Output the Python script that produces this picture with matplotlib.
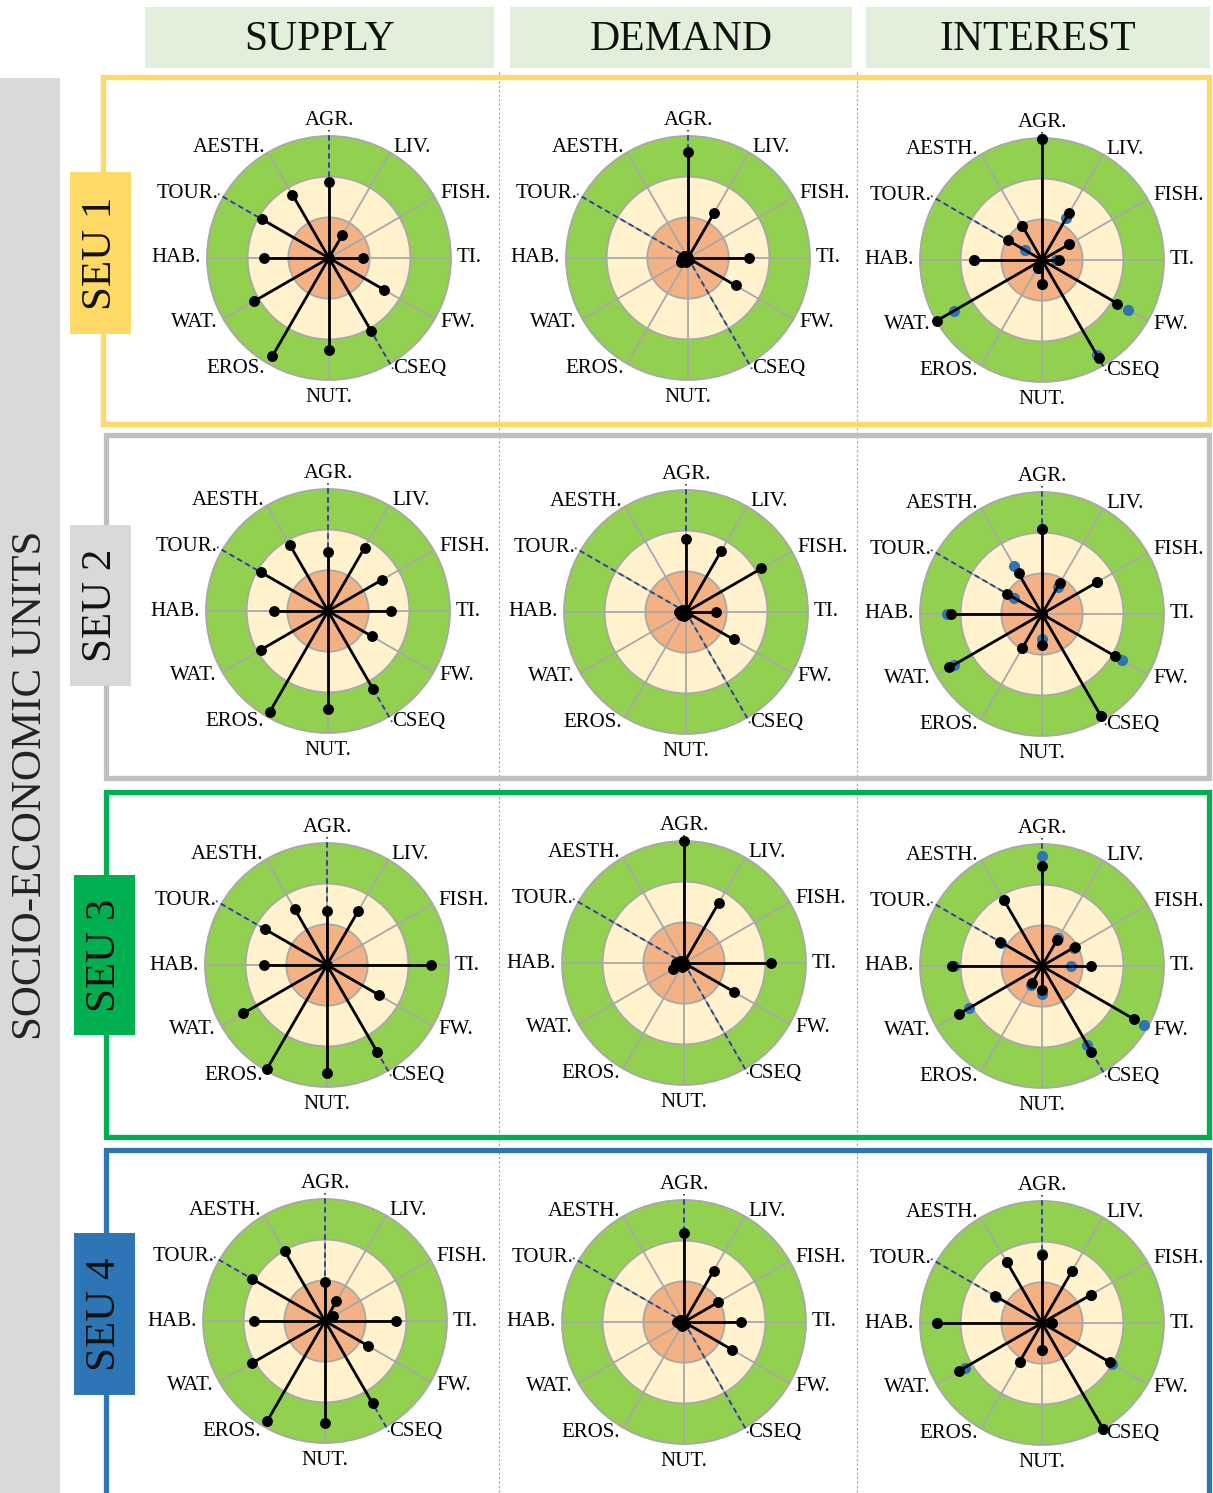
import matplotlib
matplotlib.use('Agg')
import matplotlib.pyplot as plt
import numpy as np
from matplotlib.patches import Rectangle
from matplotlib.lines import Line2D

plt.rcParams['font.family'] = ['Liberation Serif', 'DejaVu Serif']

# ecosystem services, clockwise from the top
services = ['AGR.', 'LIV.', 'FISH.', 'TI.', 'FW.', 'CSEQ', 'NUT.', 'EROS.', 'WAT.', 'HAB.', 'TOUR.', 'AESTH.']
columns = ['SUPPLY', 'DEMAND', 'INTEREST']
units = ['SEU 1', 'SEU 2', 'SEU 3', 'SEU 4']

# scores on a 0-3 scale
seu1_supply = [1.86, 0.64, 0.0, 0.83, 1.55, 2.07, 2.27, 2.78, 2.13, 1.59, 1.91, 1.80]
seu1_demand = [2.61, 1.29, 0.0, 1.51, 1.35, 0.05, 0.05, 0.10, 0.20, 0.15, 0.10, 0.05]
seu1_interest = [2.97, 1.34, 0.78, 0.41, 2.14, 2.79, 0.59, 0.22, 2.98, 1.68, 0.96, 0.97]
seu1_interest2 = [2.97, 1.20, 0.78, 0.35, 2.44, 2.71, 0.59, 0.22, 2.49, 1.68, 0.49, 0.97]

seu2_supply = [1.45, 1.80, 1.53, 1.56, 1.25, 2.21, 2.40, 2.87, 1.90, 1.33, 1.90, 1.88]
seu2_demand = [1.79, 1.72, 2.14, 0.73, 1.35, 0.05, 0.05, 0.10, 0.15, 0.17, 0.10, 0.05]
seu2_interest = [2.08, 0.89, 1.57, 0.0, 2.06, 2.90, 0.76, 0.96, 2.63, 2.24, 0.99, 1.15]
seu2_interest2 = [2.08, 0.77, 1.57, 0.0, 2.28, 2.90, 0.62, 0.96, 2.50, 2.34, 0.79, 1.36]

seu3_supply = [1.32, 1.54, 0.0, 2.55, 1.49, 2.47, 2.65, 2.96, 2.38, 1.55, 1.76, 1.59]
seu3_demand = [3.00, 1.71, 0.0, 2.15, 1.41, 0.05, 0.05, 0.10, 0.30, 0.20, 0.10, 0.05]
seu3_interest = [2.47, 0.74, 0.94, 1.20, 2.62, 2.43, 0.59, 0.49, 2.35, 2.21, 1.19, 1.88]
seu3_interest2 = [2.70, 0.80, 0.90, 0.72, 2.90, 2.23, 0.70, 0.53, 2.08, 2.17, 1.15, 1.88]

seu4_supply = [0.95, 0.56, 0.23, 1.74, 1.23, 2.34, 2.50, 2.84, 2.07, 1.75, 2.06, 1.98]
seu4_demand = [2.20, 1.46, 0.96, 1.40, 1.36, 0.05, 0.05, 0.10, 0.12, 0.18, 0.10, 0.05]
seu4_interest = [1.67, 1.47, 1.40, 0.25, 1.93, 3.00, 0.66, 1.10, 2.36, 2.58, 1.33, 1.73]
seu4_interest2 = [1.70, 1.47, 1.40, 0.25, 2.00, 3.00, 0.66, 1.10, 2.20, 2.58, 1.30, 1.73]

rows = [
    (seu1_supply, seu1_demand, seu1_interest, seu1_interest2),
    (seu2_supply, seu2_demand, seu2_interest, seu2_interest2),
    (seu3_supply, seu3_demand, seu3_interest, seu3_interest2),
    (seu4_supply, seu4_demand, seu4_interest, seu4_interest2),
]

W, H = 1213, 1493
fig = plt.figure(figsize=(W / 100, H / 100), dpi=100)


def box(x0, y0, x1, y1, **kw):
    r = Rectangle((x0 / W, 1 - y1 / H), (x1 - x0) / W, (y1 - y0) / H,
                  transform=fig.transFigure, **kw)
    fig.add_artist(r)


# column headers
header_x = [(145, 494), (510, 852), (866, 1210)]
for (x0, x1), name in zip(header_x, columns):
    box(x0, 7, x1, 68, facecolor='#e2efda', edgecolor='none')
    fig.text((x0 + x1) / 2 / W, 1 - 40 / H, name, ha='center', va='center',
             fontsize=30, color='#111111')

# side bar
box(0, 78, 60, 1500, facecolor='#d9d9d9', edgecolor='none')
fig.text(31 / W, 1 - 785 / H, 'SOCIO-ECONOMIC UNITS', rotation=90, ha='center',
         va='center', fontsize=31, color='#222222')

# dotted column separators
for x in [499, 857]:
    fig.add_artist(Line2D([x / W, x / W], [1 - 72 / H, 0], transform=fig.transFigure,
                          color='#a0a0a0', lw=0.8, ls=(0, (2, 2))))

frame_colors = ['#ffd966', '#bfbfbf', '#00b050', '#2e75b6']
frame_y = [(77, 424), (435, 778), (792, 1137), (1150, 1510)]
frame_x = [(103, 1209), (106, 1209), (106, 1209), (106, 1209)]
tag_pos = [(70, 172, 131, 334), (70, 525, 131, 686), (74, 875, 135, 1035), (74, 1233, 135, 1395)]
tag_colors = ['#ffd966', '#d9d9d9', '#00b050', '#2e75b6']

col_cx = [[329, 688, 1042], [328, 686, 1042], [327, 684, 1042], [325, 684, 1042]]
row_cy = [[258, 258, 260], [611, 612, 614], [965, 963, 966], [1321, 1322, 1323]]
R = 122

theta = np.linspace(0, 2 * np.pi, len(services), endpoint=False)

for i, (sup, dem, intr, intr2) in enumerate(rows):
    panels = [sup, dem, intr]
    for j in range(3):
        cx, cy = col_cx[i][j], row_cy[i][j]
        ax = fig.add_axes([(cx - R) / W, 1 - (cy + R) / H, 2 * R / W, 2 * R / H],
                          projection='polar')
        ax.set_theta_offset(np.pi / 2)
        ax.set_theta_direction(-1)
        # three bands
        ax.bar(0, 1, width=2 * np.pi, bottom=0, color='#f4b183', lw=0, zorder=1)
        ax.bar(0, 1, width=2 * np.pi, bottom=1, color='#fff2cc', lw=0, zorder=1)
        ax.bar(0, 1, width=2 * np.pi, bottom=2, color='#92d050', lw=0, zorder=1)
        ax.set_ylim(0, 3)
        ax.set_xticks(theta)
        ax.set_xticklabels([])
        ax.set_yticks([1, 2])
        ax.set_yticklabels([])
        ax.grid(color='#a8a8a8', lw=1.3)
        ax.set_axisbelow('line')
        ax.spines['polar'].set_color('#a8a8a8')
        ax.spines['polar'].set_linewidth(1.3)
        ax.tick_params(length=0, pad=0)

        for k in [0, 10, 5]:
            ax.plot([theta[k], theta[k]], [0, 3.15], color='#24447a', lw=1.3,
                    ls=(0, (3, 2)), clip_on=False, zorder=3)

        if j == 2:
            ax.plot(theta, intr2, 'o', color='#2e75b6', ms=7, zorder=3.5, clip_on=False)

        vals = panels[j]
        ax.vlines(theta, 0, vals, color='black', lw=2.0, zorder=4)
        ax.plot(theta, vals, 'o', color='black', ms=6.8, zorder=5, clip_on=False)

        for k, lab in enumerate(services):
            s = np.sin(theta[k])
            if k == 0:
                ax.text(theta[k], 3.27, lab, ha='center', va='baseline', fontsize=15)
            elif k == 6:
                ax.text(theta[k], 3.2, lab, ha='center', va='top', fontsize=15)
            else:
                ax.text(theta[k], 3.15, lab, ha='left' if s > 0 else 'right',
                        va='center', fontsize=15)

    # row frame and tag
    x0, x1 = frame_x[i]
    y0, y1 = frame_y[i]
    box(x0, y0, x1, y1, fill=False, edgecolor=frame_colors[i], lw=3.8, zorder=3)
    tx0, ty0, tx1, ty1 = tag_pos[i]
    box(tx0, ty0, tx1, ty1, facecolor=tag_colors[i], edgecolor='none', zorder=4)
    fig.text((tx0 + tx1) / 2 / W, 1 - (ty0 + ty1) / 2 / H, units[i], rotation=90,
             ha='center', va='center', fontsize=31, color='#111111', zorder=5)

fig.savefig('out.png', dpi=100)
